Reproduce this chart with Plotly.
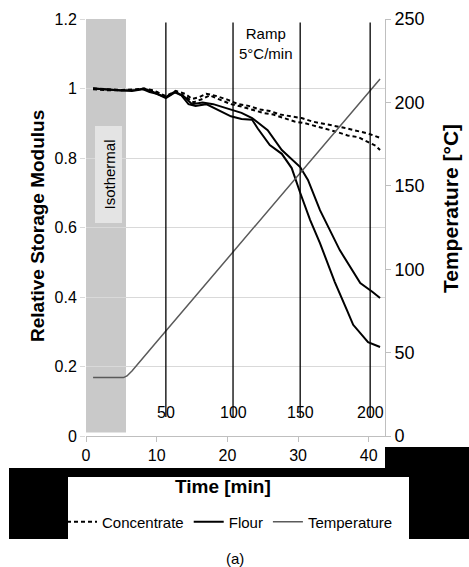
import plotly.graph_objects as go

# ---------------- data ----------------
flour1_t = [1, 3, 5, 6.5, 8, 9, 10, 11.3, 12.5, 13.5, 14.5, 15.5, 17, 18.5, 20.5, 22, 23.5,
            24.3, 26, 27.7, 29.1, 30.3, 31.7, 33.1, 35.2, 36.9, 37.8, 39.9, 41.6]
flour1_v = [1.0, 0.997, 0.995, 0.993, 0.998, 0.99, 0.985, 0.975, 0.99, 0.98, 0.955, 0.95, 0.955, 0.94, 0.92, 0.912, 0.91,
            0.885, 0.837, 0.812, 0.771, 0.70, 0.622, 0.555, 0.443, 0.363, 0.32, 0.27, 0.256]

flour2_t = [1, 3, 5, 7, 8.2, 9.5, 11.3, 12.7, 14, 15, 16.5, 18, 19.5, 20.5, 22, 23.5,
            25.7, 27.7, 30.3, 31.4, 33.1, 35.9, 38.8, 40.5, 41.6]
flour2_v = [1.0, 0.996, 0.994, 0.996, 1.0, 0.99, 0.972, 0.99, 0.975, 0.955, 0.96, 0.955, 0.945, 0.938, 0.93, 0.915,
            0.88, 0.823, 0.774, 0.737, 0.65, 0.535, 0.44, 0.415, 0.397]

conc1_t = [1, 3, 5, 7, 8.2, 9.5, 11.3, 12.7, 14, 15, 16, 17, 18.5, 20, 21.5, 23, 24.5, 26, 27.5,
           29, 30.5, 32, 33.5, 35, 36.5, 38, 40, 41.6]
conc1_v = [1.0, 0.997, 0.996, 0.997, 1.0, 0.995, 0.978, 0.993, 0.985, 0.97, 0.975, 0.985, 0.978, 0.968, 0.955, 0.95,
           0.94, 0.935, 0.925, 0.92, 0.915, 0.905, 0.9, 0.893, 0.887, 0.88, 0.87, 0.858]

conc2_t = [1, 3, 5, 7, 8.5, 10, 11.3, 12.7, 14, 15.2, 16.5, 17.5, 19, 20.5, 22, 23.5, 25, 26.5, 28,
           29.5, 31, 32.5, 34, 35.5, 37, 38.5, 40, 41, 41.6]
conc2_v = [0.998, 0.995, 0.995, 0.996, 0.998, 0.99, 0.975, 0.99, 0.978, 0.96, 0.97, 0.98, 0.968, 0.955, 0.948, 0.94,
           0.93, 0.925, 0.915, 0.905, 0.9, 0.892, 0.882, 0.875, 0.865, 0.86, 0.845, 0.835, 0.823]

temp_t = [1, 5.3, 5.8, 6.5, 10, 20, 30, 41.6]
temp_v = [35, 35, 36, 39, 56.5, 106.5, 156.5, 214]

marker_times = [11.3, 20.8, 30.3, 40.2]
marker_labels = ["50", "100", "150", "200"]

isothermal_end = 5.66

x_ticks = [0, 10, 20, 30, 40]

# ---------------- helpers (pixel -> paper) ----------------
W, H = 469, 567
L, R, T, B = 86, 385, 19, 436


def px(x):
    return (x - L) / (R - L)


def py(y):
    return (B - y) / (B - T)


FONT = "Liberation Sans, Arial, sans-serif"

fig = go.Figure()

fig.add_trace(go.Scatter(x=conc1_t, y=conc1_v, mode="lines", name="Concentrate",
                         legendgroup="c", line=dict(color="black", width=2, dash="4px,3px")))
fig.add_trace(go.Scatter(x=conc2_t, y=conc2_v, mode="lines", name="Concentrate", showlegend=False,
                         legendgroup="c", line=dict(color="black", width=2, dash="4px,3px")))
fig.add_trace(go.Scatter(x=flour1_t, y=flour1_v, mode="lines", name="Flour",
                         legendgroup="f", line=dict(color="black", width=2)))
fig.add_trace(go.Scatter(x=flour2_t, y=flour2_v, mode="lines", name="Flour", showlegend=False,
                         legendgroup="f", line=dict(color="black", width=2)))
fig.add_trace(go.Scatter(x=temp_t, y=temp_v, mode="lines", name="Temperature", yaxis="y2",
                         line=dict(color="#5a5a5a", width=1.5)))

shapes = []
# isothermal band
shapes.append(dict(type="rect", xref="x", yref="y", x0=0, x1=isothermal_end, y0=0.01, y1=1.2,
                   fillcolor="#c9c9c9", line=dict(width=0), layer="below"))
# isothermal label box
shapes.append(dict(type="rect", xref="paper", yref="paper", x0=px(95), x1=px(122), y0=py(223), y1=py(126),
                   fillcolor="#e4e4e4", line=dict(width=0), layer="above"))
# vertical marker lines
for t in marker_times:
    shapes.append(dict(type="line", xref="x", yref="y", x0=t, x1=t, y0=0.055, y1=1.19,
                       line=dict(color="black", width=1.3)))
# black blocks (as in the reference image)
blk = dict(type="rect", xref="paper", yref="paper", fillcolor="black", line=dict(width=0), layer="above")
shapes.append(dict(blk, x0=px(9), x1=px(385), y0=py(477), y1=py(468)))
shapes.append(dict(blk, x0=px(9), x1=px(68), y0=py(539), y1=py(468)))
shapes.append(dict(blk, x0=px(385), x1=px(469), y0=py(477), y1=py(447)))
shapes.append(dict(blk, x0=px(409), x1=px(469), y0=py(539), y1=py(447)))


def ann(x, y, text, size, angle=0, ref="paper"):
    return dict(x=x, y=y, xref=ref, yref=ref, text=text, showarrow=False, textangle=angle,
                xanchor="center", yanchor="middle",
                font=dict(family=FONT, size=size, color="black"))


annotations = []
for t, lab in zip(marker_times, marker_labels):
    annotations.append(ann(t, 0.069, lab, 16, ref=None))
    annotations[-1]["xref"] = "x"
    annotations[-1]["yref"] = "y"
annotations.append(ann(px(266), py(44), "Ramp<br>5°C/min", 15))
annotations.append(ann(px(108.5), py(175), "Isothermal", 15, angle=-90))
annotations.append(ann(px(235), py(558), "(a)", 15))
annotations.append(ann(px(37), py(226), "<b>Relative Storage Modulus</b>", 19, angle=-90))
annotations.append(ann(px(450), py(209), "<b>Temperature [°C]</b>", 21, angle=-90))
annotations.append(ann(px(223), py(487), "<b>Time [min]</b>", 19))

fig.update_layout(
    width=W, height=H,
    margin=dict(l=L, r=W - R, t=T, b=H - B, pad=0, autoexpand=False),
    paper_bgcolor="white", plot_bgcolor="white",
    font=dict(family=FONT, color="black"),
    xaxis=dict(range=[0, 42.3], tickvals=x_ticks, showgrid=False, zeroline=False,
               showline=True, linecolor="#bfbfbf", linewidth=1,
               ticks="outside", ticklen=5, tickcolor="#bfbfbf",
               tickfont=dict(size=16, family=FONT), fixedrange=True),
    yaxis=dict(range=[0, 1.2], dtick=0.2, showgrid=True, gridcolor="#d9d9d9", gridwidth=1,
               zeroline=False, showline=False, ticks="outside", ticklen=5, tickcolor="#d9d9d9",
               tickfont=dict(size=16, family=FONT)),
    yaxis2=dict(range=[0, 250], dtick=50, overlaying="y", side="right", showgrid=False, zeroline=False,
                showline=True, linecolor="#bfbfbf", linewidth=1, ticks="outside", ticklen=5,
                tickcolor="#bfbfbf", tickfont=dict(size=18, family=FONT)),
    legend=dict(orientation="h", xref="paper", yref="paper",
                x=px(62), y=py(522), xanchor="left", yanchor="middle",
                font=dict(size=15, family=FONT), bgcolor="rgba(0,0,0,0)", itemwidth=30,
                tracegroupgap=0),
    shapes=shapes,
    annotations=annotations,
    showlegend=True,
)

fig.write_html("out.html", config={"displayModeBar": False},
               post_script="document.body.style.margin='0';document.body.style.overflow='hidden';")
